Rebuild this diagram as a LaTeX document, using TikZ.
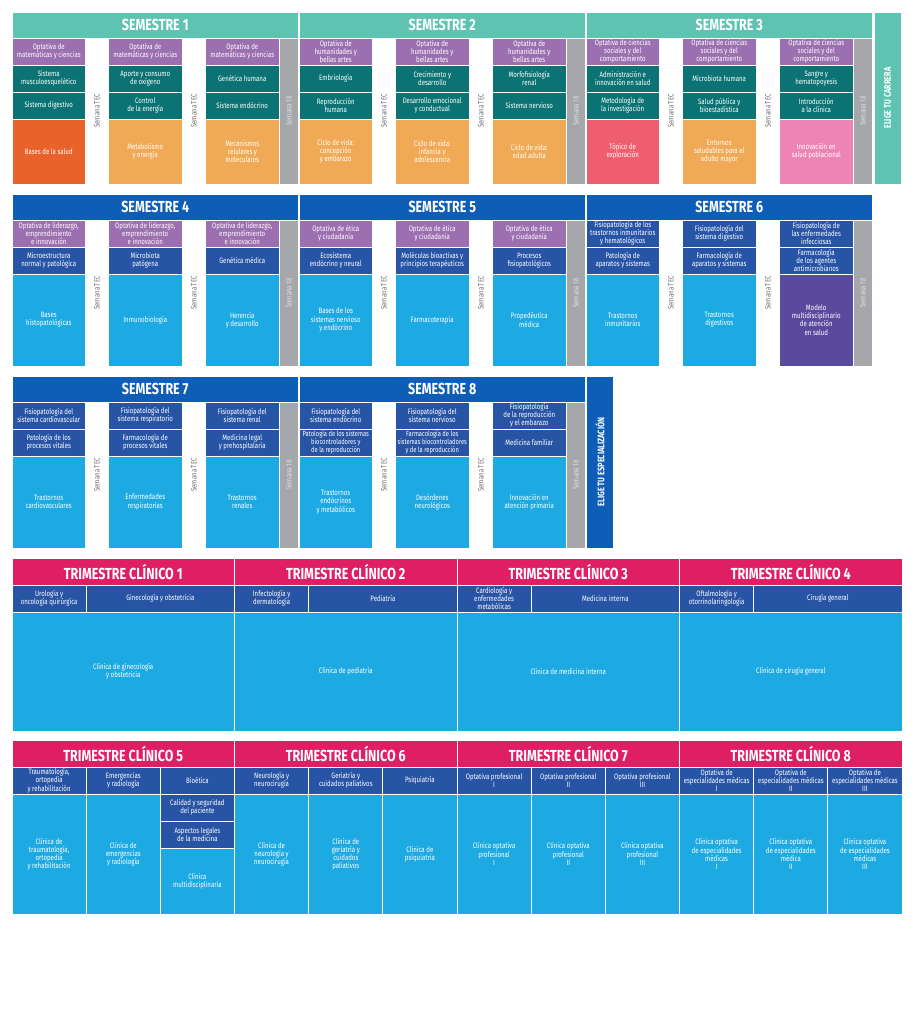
\documentclass[tikz,border=0pt]{standalone}
\usepackage{fontspec}
\setmainfont[FakeStretch=0.78]{Fira Sans}
\usepackage{tikz}
\definecolor{semteal}{HTML}{5EC4B1}
\definecolor{optpurple}{HTML}{9B6FB0}
\definecolor{darkteal}{HTML}{0B7373}
\definecolor{basesred}{HTML}{E9612B}
\definecolor{softorange}{HTML}{F0A954}
\definecolor{coral}{HTML}{EF5E6E}
\definecolor{softpink}{HTML}{EE84B6}
\definecolor{weekgrey}{HTML}{A6A7AA}
\definecolor{semblue}{HTML}{0E5DB6}
\definecolor{darkblue}{HTML}{2754A5}
\definecolor{lightblue}{HTML}{1DA9E1}
\definecolor{indigo}{HTML}{5A4A9E}
\definecolor{trimag}{HTML}{E01E63}
\definecolor{tecgrey}{HTML}{6E6E70}
\begin{document}
\begin{tikzpicture}[x=1pt, y=-1pt,
  box/.style={rectangle, draw=white, line width=0.7pt, inner sep=0pt, outer sep=0pt, align=center, text=white, font=\fontsize{7.8}{8.2}\selectfont, anchor=north west},
  semhead/.style={box, minimum width=286.5pt, minimum height=26pt, font=\fontsize{16}{17}\selectfont\bfseries},
  sml/.style={box, minimum width=73.5pt, minimum height=27pt},
  bigone/.style={box, minimum width=73.5pt, minimum height=65pt},
  bigtwo/.style={box, minimum width=73.5pt, minimum height=92pt},
  wkband/.style={box, anchor=center, rotate=90, fill=weekgrey, minimum width=146pt, minimum height=19pt, text=white!88!black, font=\fontsize{7.8}{8}\selectfont},
  tec/.style={rotate=90, inner sep=0pt, text=tecgrey, font=\fontsize{7.8}{8}\selectfont},
  chooseband/.style={box, anchor=center, rotate=90, minimum width=172pt, minimum height=27pt, font=\fontsize{9.5}{10}\selectfont\bfseries},
  trihead/.style={box, fill=trimag, minimum width=222.5pt, minimum height=26.5pt, font=\fontsize{16}{17}\selectfont\bfseries},
  tsub/.style={box, fill=darkblue, minimum height=27pt},
  tone/.style={minimum width=74.2pt},
  ttwo/.style={minimum width=148.3pt},
  tbig/.style={box, fill=lightblue}]
  \useasboundingbox (0,0) rectangle (913,1024);
  % semestres 1 a 3
  \node[semhead, fill=semteal] (s1h) at (12,12) {SEMESTRE 1};
  \node[semhead, fill=semteal] (s2h) at (299,12) {SEMESTRE 2};
  \node[semhead, fill=semteal] (s3h) at (586,12) {SEMESTRE 3};
  \node[sml, fill=optpurple] (s1a1) at (12,38) {Optativa de\\matemáticas y ciencias};
  \node[sml, fill=optpurple] (s1a2) at (108.5,38) {Optativa de\\matemáticas y ciencias};
  \node[sml, fill=optpurple] (s1a3) at (205.5,38) {Optativa de\\matemáticas y ciencias};
  \node[sml, fill=darkteal] (s1b1) at (12,65) {Sistema\\musculoesquelético};
  \node[sml, fill=darkteal] (s1b2) at (108.5,65) {Aporte y consumo\\de oxígeno};
  \node[sml, fill=darkteal] (s1b3) at (205.5,65) {Genética humana};
  \node[sml, fill=darkteal] (s1c1) at (12,92) {Sistema digestivo};
  \node[sml, fill=darkteal] (s1c2) at (108.5,92) {Control\\de la energía};
  \node[sml, fill=darkteal] (s1c3) at (205.5,92) {Sistema endócrino};
  \node[bigone, fill=basesred] (s1d1) at (12,119) {Bases de la salud};
  \node[bigone, fill=softorange] (s1d2) at (108.5,119) {Metabolismo\\y energía};
  \node[bigone, fill=softorange] (s1d3) at (205.5,119) {Mecanismos\\celulares y\\moleculares};
  \node[tec] (s1tec1) at (97,111) {Semana TEC};
  \node[tec] (s1tec2) at (194,111) {Semana TEC};
  \node[wkband] (s1w18) at (289,111) {Semana 18};
  \node[sml, fill=optpurple] (s2a1) at (299,38) {Optativa de\\humanidades y\\bellas artes};
  \node[sml, fill=optpurple] (s2a2) at (395.5,38) {Optativa de\\humanidades y\\bellas artes};
  \node[sml, fill=optpurple] (s2a3) at (492.5,38) {Optativa de\\humanidades y\\bellas artes};
  \node[sml, fill=darkteal] (s2b1) at (299,65) {Embriología};
  \node[sml, fill=darkteal] (s2b2) at (395.5,65) {Crecimiento y\\desarrollo};
  \node[sml, fill=darkteal] (s2b3) at (492.5,65) {Morfofisiología\\renal};
  \node[sml, fill=darkteal] (s2c1) at (299,92) {Reproducción\\humana};
  \node[sml, fill=darkteal] (s2c2) at (395.5,92) {Desarrollo emocional\\y conductual};
  \node[sml, fill=darkteal] (s2c3) at (492.5,92) {Sistema nervioso};
  \node[bigone, fill=softorange] (s2d1) at (299,119) {Ciclo de vida:\\concepción\\y embarazo};
  \node[bigone, fill=softorange] (s2d2) at (395.5,119) {Ciclo de vida:\\infancia y\\adolescencia};
  \node[bigone, fill=softorange] (s2d3) at (492.5,119) {Ciclo de vida:\\edad adulta};
  \node[tec] (s2tec1) at (384,111) {Semana TEC};
  \node[tec] (s2tec2) at (481,111) {Semana TEC};
  \node[wkband] (s2w18) at (576,111) {Semana 18};
  \node[sml, fill=optpurple] (s3a1) at (586,38) {Optativa de ciencias\\sociales y del\\comportamiento};
  \node[sml, fill=optpurple] (s3a2) at (682.5,38) {Optativa de ciencias\\sociales y del\\comportamiento};
  \node[sml, fill=optpurple] (s3a3) at (779.5,38) {Optativa de ciencias\\sociales y del\\comportamiento};
  \node[sml, fill=darkteal] (s3b1) at (586,65) {Administración e\\innovación en salud};
  \node[sml, fill=darkteal] (s3b2) at (682.5,65) {Microbiota humana};
  \node[sml, fill=darkteal] (s3b3) at (779.5,65) {Sangre y\\hematopoyesis};
  \node[sml, fill=darkteal] (s3c1) at (586,92) {Metodología de\\la investigación};
  \node[sml, fill=darkteal] (s3c2) at (682.5,92) {Salud pública y\\bioestadística};
  \node[sml, fill=darkteal] (s3c3) at (779.5,92) {Introducción\\a la clínica};
  \node[bigone, fill=coral] (s3d1) at (586,119) {Tópico de\\exploración};
  \node[bigone, fill=softorange] (s3d2) at (682.5,119) {Entornos\\saludables para el\\adulto mayor};
  \node[bigone, fill=softpink] (s3d3) at (779.5,119) {Innovación en\\salud poblacional};
  \node[tec] (s3tec1) at (671,111) {Semana TEC};
  \node[tec] (s3tec2) at (768,111) {Semana TEC};
  \node[wkband] (s3w18) at (863,111) {Semana 18};
  \node[chooseband, fill=semteal] (carrera) at (887.5,98) {ELIGE TU CARRERA};
  % semestres 4 a 6
  \node[semhead, fill=semblue] (s4h) at (12,194) {SEMESTRE 4};
  \node[semhead, fill=semblue] (s5h) at (299,194) {SEMESTRE 5};
  \node[semhead, fill=semblue] (s6h) at (586,194) {SEMESTRE 6};
  \node[sml, fill=optpurple] (s4a1) at (12,220) {Optativa de liderazgo,\\emprendimiento\\e innovación};
  \node[sml, fill=optpurple] (s4a2) at (108.5,220) {Optativa de liderazgo,\\emprendimiento\\e innovación};
  \node[sml, fill=optpurple] (s4a3) at (205.5,220) {Optativa de liderazgo,\\emprendimiento\\e innovación};
  \node[sml, fill=darkblue] (s4b1) at (12,247) {Microestructura\\normal y patológica};
  \node[sml, fill=darkblue] (s4b2) at (108.5,247) {Microbiota\\patógena};
  \node[sml, fill=darkblue] (s4b3) at (205.5,247) {Genética médica};
  \node[bigtwo, fill=lightblue] (s4d1) at (12,274) {Bases\\histopatológicas};
  \node[bigtwo, fill=lightblue] (s4d2) at (108.5,274) {Inmunobiología};
  \node[bigtwo, fill=lightblue] (s4d3) at (205.5,274) {Herencia\\y desarrollo};
  \node[tec] (s4tec1) at (97,293) {Semana TEC};
  \node[tec] (s4tec2) at (194,293) {Semana TEC};
  \node[wkband] (s4w18) at (289,293) {Semana 18};
  \node[sml, fill=optpurple] (s5a1) at (299,220) {Optativa de ética\\y ciudadanía};
  \node[sml, fill=optpurple] (s5a2) at (395.5,220) {Optativa de ética\\y ciudadanía};
  \node[sml, fill=optpurple] (s5a3) at (492.5,220) {Optativa de ética\\y ciudadanía};
  \node[sml, fill=darkblue] (s5b1) at (299,247) {Ecosistema\\endócrino y neural};
  \node[sml, fill=darkblue] (s5b2) at (395.5,247) {Moléculas bioactivas y\\principios terapéuticos};
  \node[sml, fill=darkblue] (s5b3) at (492.5,247) {Procesos\\fisiopatológicos};
  \node[bigtwo, fill=lightblue] (s5d1) at (299,274) {Bases de los\\sistemas nervioso\\y endócrino};
  \node[bigtwo, fill=lightblue] (s5d2) at (395.5,274) {Farmacoterapia};
  \node[bigtwo, fill=lightblue] (s5d3) at (492.5,274) {Propedéutica\\médica};
  \node[tec] (s5tec1) at (384,293) {Semana TEC};
  \node[tec] (s5tec2) at (481,293) {Semana TEC};
  \node[wkband] (s5w18) at (576,293) {Semana 18};
  \node[sml, fill=darkblue] (s6a1) at (586,220) {Fisiopatología de los\\trastornos inmunitarios\\y hematológicos};
  \node[sml, fill=darkblue] (s6a2) at (682.5,220) {Fisiopatología del\\sistema digestivo};
  \node[sml, fill=darkblue] (s6a3) at (779.5,220) {Fisiopatología de\\las enfermedades\\infecciosas};
  \node[sml, fill=darkblue] (s6b1) at (586,247) {Patología de\\aparatos y sistemas};
  \node[sml, fill=darkblue] (s6b2) at (682.5,247) {Farmacología de\\aparatos y sistemas};
  \node[sml, fill=darkblue] (s6b3) at (779.5,247) {Farmacología\\de los agentes\\antimicrobianos};
  \node[bigtwo, fill=lightblue] (s6d1) at (586,274) {Trastornos\\inmunitarios};
  \node[bigtwo, fill=lightblue] (s6d2) at (682.5,274) {Trastornos\\digestivos};
  \node[bigtwo, fill=indigo] (s6d3) at (779.5,274) {Modelo\\multidisciplinario\\de atención\\en salud};
  \node[tec] (s6tec1) at (671,293) {Semana TEC};
  \node[tec] (s6tec2) at (768,293) {Semana TEC};
  \node[wkband] (s6w18) at (863,293) {Semana 18};
  % semestres 7 y 8
  \node[semhead, fill=semblue] (s7h) at (12,376) {SEMESTRE 7};
  \node[semhead, fill=semblue] (s8h) at (299,376) {SEMESTRE 8};
  \node[sml, fill=darkblue] (s7a1) at (12,402) {Fisiopatología del\\sistema cardiovascular};
  \node[sml, fill=darkblue] (s7a2) at (108.5,402) {Fisiopatología del\\sistema respiratorio};
  \node[sml, fill=darkblue] (s7a3) at (205.5,402) {Fisiopatología del\\sistema renal};
  \node[sml, fill=darkblue] (s7b1) at (12,429) {Patología de los\\procesos vitales};
  \node[sml, fill=darkblue] (s7b2) at (108.5,429) {Farmacología de\\procesos vitales};
  \node[sml, fill=darkblue] (s7b3) at (205.5,429) {Medicina legal\\y prehospitalaria};
  \node[bigtwo, fill=lightblue] (s7d1) at (12,456) {Trastornos\\cardiovasculares};
  \node[bigtwo, fill=lightblue] (s7d2) at (108.5,456) {Enfermedades\\respiratorias};
  \node[bigtwo, fill=lightblue] (s7d3) at (205.5,456) {Trastornos\\renales};
  \node[tec] (s7tec1) at (97,475) {Semana TEC};
  \node[tec] (s7tec2) at (194,475) {Semana TEC};
  \node[wkband] (s7w18) at (289,475) {Semana 18};
  \node[sml, fill=darkblue] (s8a1) at (299,402) {Fisiopatología del\\sistema endócrino};
  \node[sml, fill=darkblue] (s8a2) at (395.5,402) {Fisiopatología del\\sistema nervioso};
  \node[sml, fill=darkblue] (s8a3) at (492.5,402) {Fisiopatología\\de la reproducción\\y el embarazo};
  \node[sml, fill=darkblue, font=\fontsize{7.4}{8.2}\selectfont] (s8b1) at (299,429) {Patología de los sistemas\\biocontroladores y\\de la reproducción};
  \node[sml, fill=darkblue, font=\fontsize{7.4}{8.2}\selectfont] (s8b2) at (395.5,429) {Farmacología de los\\sistemas biocontroladores\\y de la reproducción};
  \node[sml, fill=darkblue] (s8b3) at (492.5,429) {Medicina familiar};
  \node[bigtwo, fill=lightblue] (s8d1) at (299,456) {Trastornos\\endócrinos\\y metabólicos};
  \node[bigtwo, fill=lightblue] (s8d2) at (395.5,456) {Desórdenes\\neurológicos};
  \node[bigtwo, fill=lightblue] (s8d3) at (492.5,456) {Innovación en\\atención primaria};
  \node[tec] (s8tec1) at (384,475) {Semana TEC};
  \node[tec] (s8tec2) at (481,475) {Semana TEC};
  \node[wkband] (s8w18) at (576,475) {Semana 18};
  \node[chooseband, fill=semblue] (especial) at (600,462) {ELIGE TU ESPECIALIZACIÓN};
  % trimestres clinicos 1 a 4
  \node[trihead] (t1h) at (12,558.5) {TRIMESTRE CLÍNICO 1};
  \node[trihead] (t2h) at (234.5,558.5) {TRIMESTRE CLÍNICO 2};
  \node[trihead] (t3h) at (457,558.5) {TRIMESTRE CLÍNICO 3};
  \node[trihead] (t4h) at (679.5,558.5) {TRIMESTRE CLÍNICO 4};
  \node[tsub, tone] (t1s1) at (12,585) {Urología y\\oncología quirúrgica};
  \node[tsub, ttwo] (t1s2) at (86.2,585) {Ginecología y obstetricia};
  \node[tsub, tone] (t2s1) at (234.5,585) {Infectología y\\dermatología};
  \node[tsub, ttwo] (t2s2) at (308.7,585) {Pediatría};
  \node[tsub, tone] (t3s1) at (457,585) {Cardiología y\\enfermedades\\metabólicas};
  \node[tsub, ttwo] (t3s2) at (531.2,585) {Medicina interna};
  \node[tsub, tone] (t4s1) at (679.5,585) {Oftalmología y\\otorrinolaringología};
  \node[tsub, ttwo] (t4s2) at (753.7,585) {Cirugía general};
  \node[tbig, minimum width=222.5pt, minimum height=119pt] (t1c) at (12,612) {Clínica de ginecología\\y obstetricia};
  \node[tbig, minimum width=222.5pt, minimum height=119pt] (t2c) at (234.5,612) {Clínica de pediatría};
  \node[tbig, minimum width=222.5pt, minimum height=119pt] (t3c) at (457,612) {Clínica de medicina interna};
  \node[tbig, minimum width=222.5pt, minimum height=119pt] (t4c) at (679.5,612) {Clínica de cirugía general};
  % trimestres clinicos 5 a 8
  \node[trihead] (t5h) at (12,740.5) {TRIMESTRE CLÍNICO 5};
  \node[trihead] (t6h) at (234.5,740.5) {TRIMESTRE CLÍNICO 6};
  \node[trihead] (t7h) at (457,740.5) {TRIMESTRE CLÍNICO 7};
  \node[trihead] (t8h) at (679.5,740.5) {TRIMESTRE CLÍNICO 8};
  \node[tsub, tone] (t5s1) at (12,767) {Traumatología,\\ortopedia\\y rehabilitación};
  \node[tsub, tone] (t5s2) at (86.2,767) {Emergencias\\y radiología};
  \node[tsub, tone] (t5s3) at (160.3,767) {Bioética};
  \node[tsub, tone] (t6s1) at (234.5,767) {Neurología y\\neurocirugía};
  \node[tsub, tone] (t6s2) at (308.7,767) {Geriatría y\\cuidados paliativos};
  \node[tsub, tone] (t6s3) at (382.8,767) {Psiquiatría};
  \node[tsub, tone] (t7s1) at (457,767) {Optativa profesional\\I};
  \node[tsub, tone] (t7s2) at (531.2,767) {Optativa profesional\\II};
  \node[tsub, tone] (t7s3) at (605.3,767) {Optativa profesional\\III};
  \node[tsub, tone] (t8s1) at (679.5,767) {Optativa de\\especialidades médicas\\I};
  \node[tsub, tone] (t8s2) at (753.7,767) {Optativa de\\especialidades médicas\\II};
  \node[tsub, tone] (t8s3) at (827.8,767) {Optativa de\\especialidades médicas\\III};
  \node[tbig, tone, minimum height=120pt] (t5c1) at (12,794) {Clínica de\\traumatología,\\ortopedia\\y rehabilitación};
  \node[tbig, tone, minimum height=120pt] (t5c2) at (86.2,794) {Clínica de\\emergencias\\y radiología};
  \node[tsub, tone] (t5c3) at (160.3,794) {Calidad y seguridad\\del paciente};
  \node[tsub, tone, minimum height=27.5pt] (t5c4) at (160.3,821) {Aspectos legales\\de la medicina};
  \node[tbig, tone, minimum height=65.5pt] (t5c5) at (160.3,848.5) {Clínica\\multidisciplinaria};
  \node[tbig, tone, minimum height=120pt] (t6c1) at (234.5,794) {Clínica de\\neurología y\\neurocirugía};
  \node[tbig, tone, minimum height=120pt] (t6c2) at (308.7,794) {Clínica de\\geriatría y\\cuidados\\paliativos};
  \node[tbig, tone, minimum height=120pt] (t6c3) at (382.8,794) {Clínica de\\psiquiatría};
  \node[tbig, tone, minimum height=120pt] (t7c1) at (457,794) {Clínica optativa\\profesional\\I};
  \node[tbig, tone, minimum height=120pt] (t7c2) at (531.2,794) {Clínica optativa\\profesional\\II};
  \node[tbig, tone, minimum height=120pt] (t7c3) at (605.3,794) {Clínica optativa\\profesional\\III};
  \node[tbig, tone, minimum height=120pt] (t8c1) at (679.5,794) {Clínica optativa\\de especialidades\\médicas\\I};
  \node[tbig, tone, minimum height=120pt] (t8c2) at (753.7,794) {Clínica optativa\\de especialidades\\médica\\II};
  \node[tbig, tone, minimum height=120pt] (t8c3) at (827.8,794) {Clínica optativa\\de especialidades\\médicas\\III};
\end{tikzpicture}
\end{document}
